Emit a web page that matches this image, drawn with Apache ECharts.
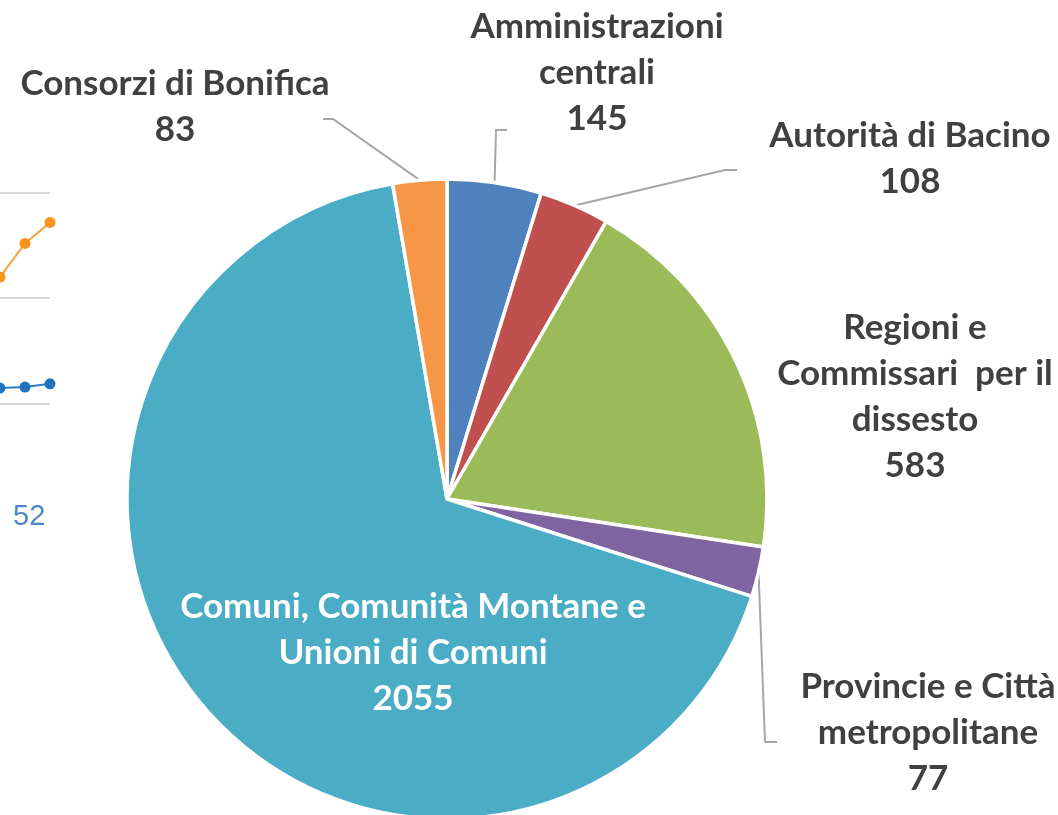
<!DOCTYPE html>
<html lang="it">
<head>
    <meta charset="UTF-8">
    <title>pie</title>
    <script src="https://cdn.jsdelivr.net/npm/echarts@6/dist/echarts.min.js"></script>
    <style>
        html, body { margin: 0; padding: 0; background: #fff; }
        #main { width: 1058px; height: 815px; }
    </style>
</head>
<body>
<div id="main"></div>
<script type="text/javascript">
    // pie data (clockwise from 12 o'clock)
    let categories = [
        'Amministrazioni\ncentrali',
        'Autorità di Bacino',
        'Regioni e\nCommissari  per il\ndissesto',
        'Provincie e Città\nmetropolitane',
        'Comuni, Comunità Montane e\nUnioni di Comuni',
        'Consorzi di Bonifica'
    ];
    let values = [145, 108, 583, 77, 2055, 83];
    let colors = ['#4F81BD', '#C0504D', '#9BBB59', '#8064A2', '#4BACC6', '#F79646'];

    // cropped line chart fragment on the left
    let fragX = ['a', 'b', 'c'];
    let orangeVals = [20, 52, 72];
    let blueVals = [15, 16, 19];
    let fragText = '52';

    // label placement (layout only)
    let labelPlace = [
        { x: 597, y: 73, line: [[496, 130], [507, 130]] },
        { x: 910, y: 159, line: [[725, 170], [737, 170]] },
        { x: 915, y: 397 },
        { x: 928, y: 733, line: [[765, 742], [777, 742]] },
        { x: 413, y: 653 },
        { x: 175, y: 107, line: [[333, 119], [323, 119]] }
    ];

    let pieData = categories.map(function (name, i) {
        let d = { name: name, value: values[i], itemStyle: { color: colors[i] } };
        if (!labelPlace[i].line) {
            d.labelLine = { show: false };
        }
        if (i === 4) {
            d.label = { color: '#ffffff' };
        }
        return d;
    });

    let myChart = echarts.init(document.getElementById('main'));
    let option = {
        animation: false,
        grid: [
            { left: -6, top: 193, width: 56, height: 105 },
            { left: -6, top: 298, width: 56, height: 106 }
        ],
        xAxis: [
            { gridIndex: 0, type: 'category', data: fragX, boundaryGap: false, show: false },
            { gridIndex: 1, type: 'category', data: fragX, boundaryGap: false, show: false }
        ],
        yAxis: [
            { gridIndex: 0, min: 0, max: 100, interval: 100, axisLabel: { show: false },
              axisLine: { show: false }, axisTick: { show: false },
              splitLine: { lineStyle: { color: '#d9d9d9', width: 2 } } },
            { gridIndex: 1, min: 0, max: 100, interval: 100, axisLabel: { show: false },
              axisLine: { show: false }, axisTick: { show: false },
              splitLine: { lineStyle: { color: '#d9d9d9', width: 2 } } }
        ],
        graphic: [{
            type: 'text', left: 13, top: 502,
            style: { text: fragText, fill: '#4f86c6', font: '29px "Liberation Sans"' }
        }],
        series: [
            { type: 'line', xAxisIndex: 0, yAxisIndex: 0, data: orangeVals,
              symbol: 'circle', symbolSize: 11,
              lineStyle: { color: '#F7A03C', width: 2 }, itemStyle: { color: '#F7941D' } },
            { type: 'line', xAxisIndex: 1, yAxisIndex: 1, data: blueVals,
              symbol: 'circle', symbolSize: 11,
              lineStyle: { color: '#2A7BC2', width: 2 }, itemStyle: { color: '#1F73BE' } },
            {
                type: 'pie',
                center: [447, 499],
                radius: 320,
                startAngle: 90,
                clockwise: true,
                avoidLabelOverlap: false,
                itemStyle: { borderColor: '#ffffff', borderWidth: 3.5 },
                label: {
                    show: true,
                    position: 'outside',
                    formatter: '{b}\n{c}',
                    fontFamily: 'Lato',
                    fontWeight: 'bold',
                    fontSize: 35,
                    lineHeight: 46,
                    color: '#404040',
                    align: 'center'
                },
                labelLine: {
                    show: true,
                    lineStyle: { color: '#a6a6a6', width: 2 }
                },
                labelLayout: function (params) {
                    let p = labelPlace[params.dataIndex];
                    let out = { x: p.x, y: p.y, align: 'center', verticalAlign: 'middle' };
                    if (p.line && params.labelLinePoints) {
                        out.labelLinePoints = [params.labelLinePoints[0], p.line[0], p.line[1]];
                    }
                    return out;
                },
                data: pieData
            }
        ]
    };
    myChart.setOption(option);
</script>
</body>
</html>
